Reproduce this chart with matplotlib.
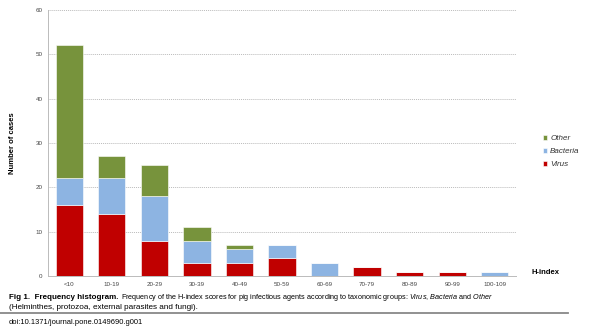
import matplotlib
matplotlib.use("Agg")
import matplotlib.pyplot as plt
import numpy as np

plt.rcParams['font.family'] = ['Liberation Sans', 'DejaVu Sans']
plt.rcParams['mathtext.fontset'] = 'custom'
plt.rcParams['mathtext.rm'] = 'Liberation Sans'
plt.rcParams['mathtext.it'] = 'Liberation Sans:italic'
plt.rcParams['mathtext.bf'] = 'Liberation Sans:bold'

# H-index classes and counts per taxonomic group
categories = ["<10", "10-19", "20-29", "30-39", "40-49", "50-59",
              "60-69", "70-79", "80-89", "90-99", "100-109"]
virus = [16, 14, 8, 3, 3, 4, 0, 2, 1, 1, 0]
bacteria = [6, 8, 10, 5, 3, 3, 3, 0, 0, 0, 1]
other = [30, 5, 7, 3, 1, 0, 0, 0, 0, 0, 0]

fig = plt.figure(figsize=(5.9, 3.34), dpi=100)
ax = fig.add_axes([48 / 590, 1 - 276 / 334, 468 / 590, 266 / 334])

x = np.arange(len(categories))
w = 0.64
v = np.array(virus)
b = np.array(bacteria)
o = np.array(other)
ax.bar(x, v, w, color="#c00000", edgecolor="white", linewidth=0.4, label="Virus", zorder=3)
ax.bar(x, b, w, bottom=v, color="#8db4e2", edgecolor="white", linewidth=0.4, label="Bacteria", zorder=3)
ax.bar(x, o, w, bottom=v + b, color="#77933c", edgecolor="white", linewidth=0.4, label="Other", zorder=3)

ax.set_xlim(-0.5, len(categories) - 0.5)
ax.set_ylim(0, 60)
ax.set_yticks(range(0, 61, 10))
ax.set_xticks(x)
ax.set_xticklabels(categories)
ax.tick_params(axis="both", labelsize=4.5, colors="#444444", length=0, pad=4)
ax.yaxis.grid(True, color="#bbbbbb", linestyle=(0, (1, 1)), linewidth=0.7, zorder=0)
for side in ["top", "right"]:
    ax.spines[side].set_visible(False)
for side in ["left", "bottom"]:
    ax.spines[side].set_color("#bbbbbb")
    ax.spines[side].set_linewidth(0.7)

ax.set_ylabel("Number of cases", fontsize=5.5, fontweight="bold", labelpad=14)
fig.text(531 / 590, 1 - 272 / 334, "H-index", fontsize=5.5, fontweight="bold", va="center")

handles, labels = ax.get_legend_handles_labels()
leg = fig.legend(handles[::-1], labels[::-1], loc="upper left",
                 bbox_to_anchor=(540 / 590, 1 - 132 / 334), frameon=False,
                 fontsize=5.8, handlelength=0.45, handleheight=0.45,
                 handletextpad=0.4, labelspacing=0.75, borderaxespad=0)
for t in leg.get_texts():
    t.set_fontstyle("italic")
    t.set_color("#333333")

# caption: bold title, then the rest right after it
renderer = fig.canvas.get_renderer()
title = fig.text(9 / 590, 1 - 299 / 334, "Fig 1.  Frequency histogram.",
                 fontsize=5.8, fontweight="bold", va="baseline")
tb = title.get_window_extent(renderer=renderer)
rest = (r"Frequency of the H-index scores for pig infectious agents according to "
        r"taxonomic groups: $\it{Virus}$, $\it{Bacteria}$ and $\it{Other}$")
fig.text((tb.x1 + 2.5) / fig.bbox.width, 1 - 299 / 334, rest,
         fontsize=5.2, va="baseline")
fig.text(9 / 590, 1 - 308.7 / 334, "(Helminthes, protozoa, external parasites and fungi).",
         fontsize=5.9, va="baseline")
fig.add_artist(plt.Line2D([0, 568 / 590], [1 - 313 / 334] * 2,
                          color="#888888", linewidth=1.3))
fig.text(9 / 590, 1 - 322 / 334, "doi:10.1371/journal.pone.0149690.g001",
         fontsize=5.4, va="center")

fig.savefig("out.png", dpi=100)
